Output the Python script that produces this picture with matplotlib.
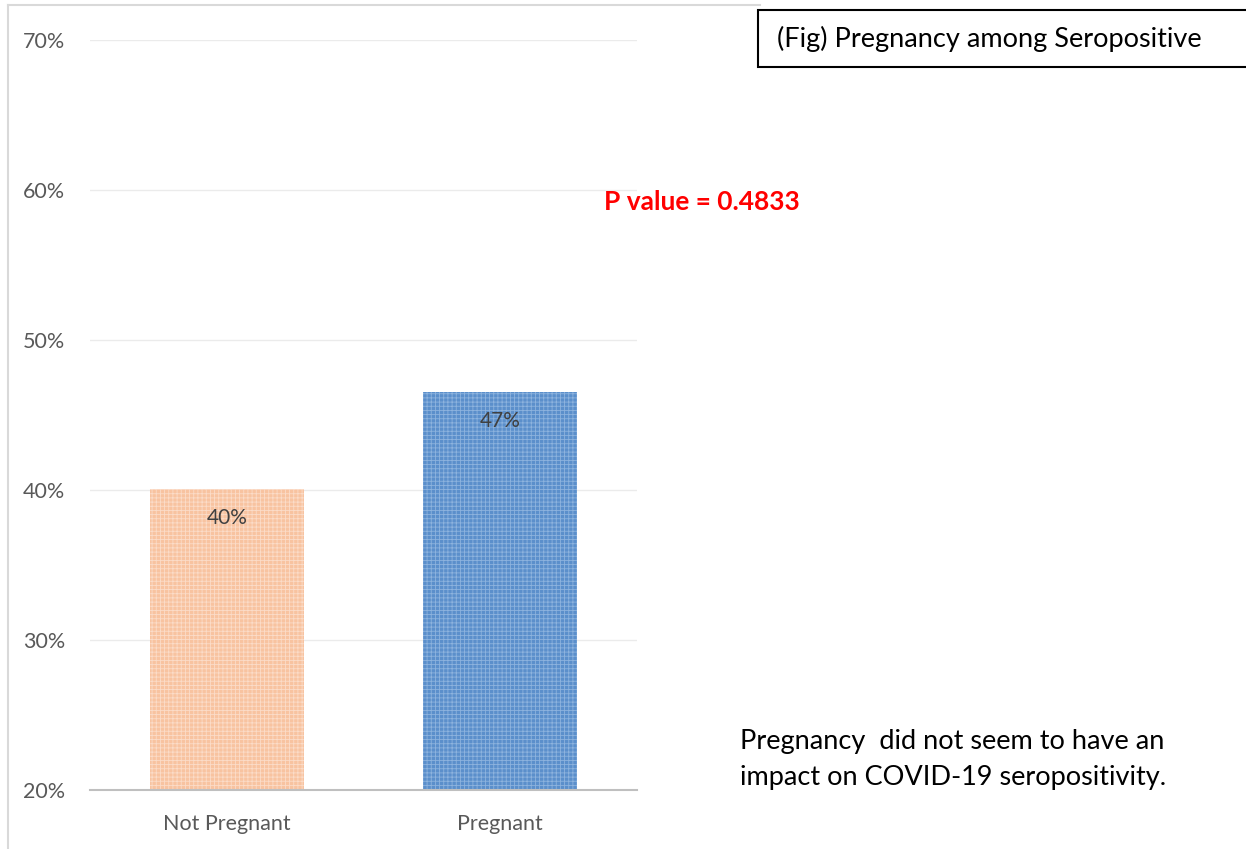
import matplotlib.pyplot as plt
from matplotlib.patches import Rectangle
from matplotlib.ticker import FuncFormatter

plt.rcParams['font.family'] = ['Lato', 'DejaVu Sans']
plt.rcParams['hatch.linewidth'] = 0.6

# data
categories = ['Not Pregnant', 'Pregnant']
values = [40.07, 46.53]
bar_labels = ['40%', '47%']
colors = ['#F8C3A0', '#5B8FCB']
hatch_colors = ['#FBDCC8', '#8DB3DE']
y_ticks = [20, 30, 40, 50, 60, 70]

fig = plt.figure(figsize=(12.46, 8.49), dpi=100)
W, H = 1246, 849
ax = fig.add_axes([90 / W, (H - 790) / H, 547 / W, 750 / H])

x = range(len(categories))
for i, (v, c, hc) in enumerate(zip(values, colors, hatch_colors)):
    ax.bar(i, v - 20, bottom=20, width=0.563, color=c, edgecolor=hc,
           hatch='++++', linewidth=0, zorder=2)
    ax.text(i, v - 1.95, bar_labels[i], ha='center', va='center',
            fontsize=15, color='#404040', zorder=3)

ax.set_xlim(-0.5, 1.5)
ax.set_ylim(20, 70)
ax.set_yticks(y_ticks)
ax.yaxis.set_major_formatter(FuncFormatter(lambda v, p: f'{v:.0f}%'))
ax.set_xticks(list(x))
ax.set_xticklabels(categories)
ax.tick_params(length=0, labelsize=15.5, colors='#595959')
ax.tick_params(axis='y', pad=18)
ax.tick_params(axis='x', pad=17)
ax.grid(axis='y', color='#EBEBEB', linewidth=1, zorder=0)
for s in ['top', 'right', 'left']:
    ax.spines[s].set_visible(False)
ax.spines['bottom'].set_color('#BFBFBF')
ax.spines['bottom'].set_linewidth(1.5)

# outer light frame (partially visible chart area)
fig.add_artist(plt.Line2D([8 / W, 8 / W], [0, 1 - 5 / H], transform=fig.transFigure,
                          color='#D9D9D9', linewidth=1.5))
fig.add_artist(plt.Line2D([8 / W, 760 / W], [1 - 5 / H, 1 - 5 / H], transform=fig.transFigure,
                          color='#D9D9D9', linewidth=1.5))

# title box
fig.add_artist(Rectangle((758 / W, 1 - 67 / H), 500 / W, 57 / H, transform=fig.transFigure,
                         facecolor='white', edgecolor='black', linewidth=1.5))
fig.text(777 / W, 1 - 39 / H, '(Fig) Pregnancy among Seropositive', fontsize=19.5,
         color='black', va='center', ha='left')

fig.text(604 / W, 1 - 202 / H, 'P value = 0.4833', fontsize=19, fontweight='bold',
         color='red', va='center', ha='left')

fig.text(740 / W, 1 - 759 / H, 'Pregnancy  did not seem to have an\nimpact on COVID-19 seropositivity.',
         fontsize=19.5, color='black', va='center', ha='left', linespacing=1.55)

fig.savefig('out.png', dpi=100)
